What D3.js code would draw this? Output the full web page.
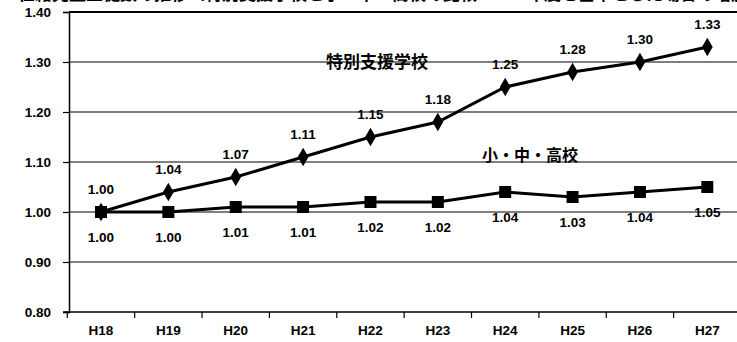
<!DOCTYPE html>
<html>
<head>
<meta charset="utf-8">
<script src="https://cdn.jsdelivr.net/npm/d3@7/dist/d3.min.js"></script>
<style>
  html, body { margin: 0; padding: 0; background: #fff; }
  svg { display: block; }
  text { font-family: "Liberation Sans", Arial, sans-serif; font-weight: bold; fill: #000; }
  .jp { font-family: "Noto Sans CJK JP", sans-serif; font-weight: bold; }
</style>
</head>
<body>
<svg id="chart" width="737" height="342"></svg>
<script>
// Fiscal years (Heisei era)
const categories = ["H18", "H19", "H20", "H21", "H22", "H23", "H24", "H25", "H26", "H27"];
// Enrollment ratio relative to H18
const specialSchool = [1.00, 1.04, 1.07, 1.11, 1.15, 1.18, 1.25, 1.28, 1.30, 1.33];
const regularSchool = [1.00, 1.00, 1.01, 1.01, 1.02, 1.02, 1.04, 1.03, 1.04, 1.05];
const yTicks = [0.80, 0.90, 1.00, 1.10, 1.20, 1.30, 1.40];
const seriesNames = ["特別支援学校", "小・中・高校"];
const titleText = "在籍児童生徒数の推移（特別支援学校と小・中・高校の比較　H18年度を基準とした場合の増加率）";

const svg = d3.select("#chart");
const plotLeft = 69, plotRight = 741, plotTop = 12, plotBottom = 312;

const x = d3.scaleBand().domain(categories).range([plotLeft - 1.7, plotRight]).paddingInner(0).paddingOuter(0);
const cx = d => x(d) + x.bandwidth() / 2;
const y = d3.scaleLinear().domain([0.8, 1.4]).range([plotBottom, plotTop]);

// Title (runs off the top edge)
svg.append("text").attr("class", "jp")
  .attr("x", 18).attr("y", 0)
  .style("font-size", "17px")
  .text(titleText);

// Horizontal gridlines
svg.append("g").selectAll("line")
  .data(yTicks.filter(v => v > 0.8))
  .join("line")
  .attr("x1", plotLeft).attr("x2", plotRight)
  .attr("y1", d => y(d)).attr("y2", d => y(d))
  .attr("stroke", "#000")
  .attr("stroke-width", d => d === 1.4 ? 2 : 1.2);

// Y axis
const yAxis = d3.axisLeft(y).tickValues(yTicks).tickFormat(d3.format(".2f")).tickSize(6).tickPadding(12);
const gy = svg.append("g").attr("transform", `translate(${plotLeft},0)`).call(yAxis);
gy.select(".domain").attr("stroke", "#000").attr("stroke-width", 1.5);
gy.selectAll(".tick line").attr("stroke", "#000").attr("stroke-width", 1.2);
gy.selectAll(".tick text").style("font-size", "13.5px").style("font-family", "Liberation Sans, Arial, sans-serif").style("font-weight", "bold");

// X axis: baseline, ticks at category boundaries, labels centered
svg.append("line")
  .attr("x1", plotLeft - 6).attr("x2", plotRight)
  .attr("y1", plotBottom).attr("y2", plotBottom)
  .attr("stroke", "#000").attr("stroke-width", 1.5);
const edges = categories.map(c => x(c));
svg.append("g").selectAll("line").data(edges).join("line")
  .attr("x1", d => d).attr("x2", d => d)
  .attr("y1", plotBottom).attr("y2", plotBottom + 6)
  .attr("stroke", "#000").attr("stroke-width", 1.2);
svg.append("g").selectAll("text").data(categories).join("text")
  .attr("x", d => cx(d)).attr("y", plotBottom + 23)
  .attr("text-anchor", "middle")
  .style("font-size", "13.5px")
  .text(d => d);

const line = d3.line().x((d, i) => cx(categories[i])).y(d => y(d));

// Regular schools series (squares)
svg.append("path").datum(regularSchool)
  .attr("d", line).attr("fill", "none")
  .attr("stroke", "#000").attr("stroke-width", 3);
svg.append("g").selectAll("rect").data(regularSchool).join("rect")
  .attr("x", (d, i) => cx(categories[i]) - 6).attr("y", d => y(d) - 6)
  .attr("width", 12).attr("height", 12).attr("fill", "#000");

// Special-needs schools series (diamonds)
svg.append("path").datum(specialSchool)
  .attr("d", line).attr("fill", "none")
  .attr("stroke", "#000").attr("stroke-width", 3);
const diamond = d3.symbol().type(d3.symbolDiamond).size(100);
svg.append("g").selectAll("path").data(specialSchool).join("path")
  .attr("d", diamond)
  .attr("transform", (d, i) => `translate(${cx(categories[i])},${y(d)})`)
  .attr("fill", "#000");

// Value labels
svg.append("g").selectAll("text").data(specialSchool).join("text")
  .attr("x", (d, i) => cx(categories[i])).attr("y", d => y(d) - 18)
  .attr("text-anchor", "middle")
  .style("font-size", "13.5px")
  .text(d => d.toFixed(2));
svg.append("g").selectAll("text").data(regularSchool).join("text")
  .attr("x", (d, i) => cx(categories[i])).attr("y", d => y(d) + 30)
  .attr("text-anchor", "middle")
  .style("font-size", "13.5px")
  .text(d => d.toFixed(2));

// Series names
svg.append("text").attr("class", "jp")
  .attr("x", 377).attr("y", 68).attr("text-anchor", "middle")
  .style("font-size", "17px")
  .text(seriesNames[0]);
svg.append("text").attr("class", "jp")
  .attr("x", 530).attr("y", 161).attr("text-anchor", "middle")
  .style("font-size", "16px")
  .text(seriesNames[1]);
</script>
</body>
</html>
